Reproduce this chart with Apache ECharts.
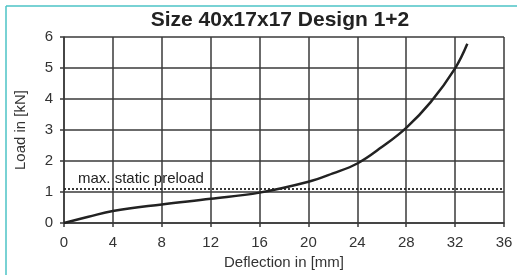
<!DOCTYPE html>
<html lang="en">
<head>
    <meta charset="UTF-8">
    <title>Size 40x17x17 Design 1+2</title>
    <style>
        html,
        body {
            margin: 0;
            padding: 0;
            background: #fff;
        }

        #chart {
            width: 517px;
            height: 275px;
        }
    </style>
</head>
<body>
    <div id="chart"></div>
    <script src="https://cdn.jsdelivr.net/npm/echarts@6/dist/echarts.min.js"></script>
    <script>
        // deflection [mm] / load [kN]
        var deflection = [0, 2, 4, 8, 12, 16, 20, 22, 24, 26, 28, 30, 32, 33];
        var load = [0, 0.2, 0.39, 0.6, 0.78, 0.98, 1.33, 1.6, 1.92, 2.45, 3.07, 3.9, 4.99, 5.78];
        var preload = 1.12;
        var xTicks = [0, 4, 8, 12, 16, 20, 24, 28, 32, 36];
        var yTicks = [0, 1, 2, 3, 4, 5, 6];

        var font = '"Liberation Sans", Arial, sans-serif';
        var gridColor = '#3a3a3a';
        var teal = '#4cc3c6';

        var points = deflection.map(function(x, i) {
            return [x, load[i]];
        });

        var chart = echarts.init(document.getElementById('chart'));
        chart.setOption({
            animation: false,
            backgroundColor: '#fff',
            title: {
                text: 'Size 40x17x17 Design 1+2',
                left: 280,
                top: 10,
                padding: 0,
                textAlign: 'center',
                textStyle: {
                    fontFamily: font,
                    fontSize: 21,
                    fontWeight: 'bold',
                    color: '#222'
                }
            },
            grid: {
                left: 64,
                right: 13,
                top: 37,
                bottom: 48
            },
            xAxis: {
                type: 'value',
                min: xTicks[0],
                max: xTicks[xTicks.length - 1],
                interval: 4,
                name: 'Deflection in [mm]',
                nameLocation: 'middle',
                nameGap: 32,
                nameTextStyle: { fontFamily: font, fontSize: 15, color: '#333' },
                axisLine: { lineStyle: { color: gridColor, width: 1.5 } },
                axisTick: { show: true, length: 4, lineStyle: { color: gridColor, width: 1.5 } },
                axisLabel: { fontFamily: font, fontSize: 15, color: '#333', margin: 12 },
                splitLine: { show: true, lineStyle: { color: gridColor, width: 1.5 } }
            },
            yAxis: {
                type: 'value',
                min: yTicks[0],
                max: yTicks[yTicks.length - 1],
                interval: 1,
                name: 'Load in [kN]',
                nameLocation: 'middle',
                nameGap: 36,
                nameTextStyle: { fontFamily: font, fontSize: 15, color: '#333' },
                axisLine: { show: true, lineStyle: { color: gridColor, width: 1.5 } },
                axisTick: { show: true, length: 4, lineStyle: { color: gridColor, width: 1.5 } },
                axisLabel: { fontFamily: font, fontSize: 15, color: '#333', margin: 11 },
                splitLine: { show: true, lineStyle: { color: gridColor, width: 1.5 } }
            },
            series: [{
                type: 'line',
                data: points,
                smooth: 0.4,
                showSymbol: false,
                lineStyle: { color: '#222', width: 2.5 },
                markLine: {
                    silent: true,
                    symbol: 'none',
                    lineStyle: { color: '#222', type: [2, 2], width: 1.8 },
                    label: {
                        show: true,
                        position: 'insideStartTop',
                        formatter: 'max. static preload',
                        fontFamily: font,
                        fontSize: 15,
                        color: '#222',
                        distance: [14, 2]
                    },
                    data: [{ yAxis: preload }]
                }
            }],
            graphic: [{
                type: 'line',
                shape: { x1: 6, y1: 6, x2: 6, y2: 275 },
                style: { stroke: teal, lineWidth: 1.5 }
            }, {
                type: 'line',
                shape: { x1: 6, y1: 6, x2: 517, y2: 6 },
                style: { stroke: teal, lineWidth: 1.5 }
            }]
        });
    </script>
</body>
</html>
